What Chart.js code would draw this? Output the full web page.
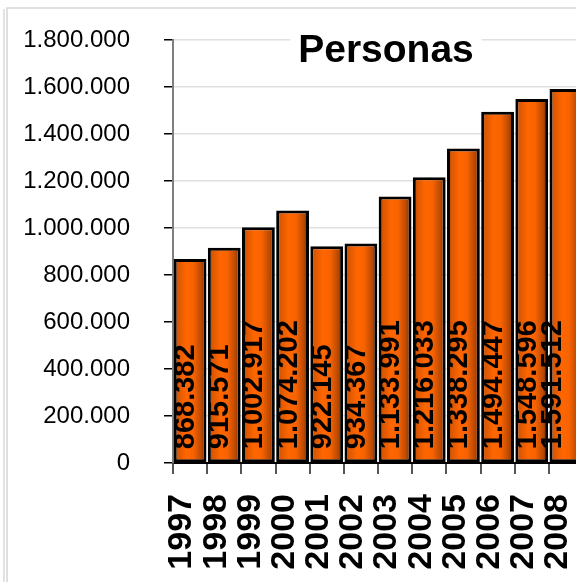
<!DOCTYPE html>
<html>
<head>
<meta charset="utf-8">
<script src="https://cdn.jsdelivr.net/npm/chart.js@4"></script>
<style>
  html, body { margin: 0; padding: 0; background: #fff; overflow: hidden; width: 576px; height: 582px; }
  #strip { position: absolute; left: 3px; top: 9px; width: 2px; height: 600px; background: #e3e3e3; }
  #frame { position: absolute; left: 6px; top: 7px; width: 700px; height: 700px; border: 2px solid #e0e0e0; }
  #wrap  { position: absolute; left: 0; top: 0; width: 592px; height: 582px; }
</style>
</head>
<body>
<div id="strip"></div>
<div id="frame"></div>
<div id="wrap"><canvas id="chart" width="592" height="582"></canvas></div>
<script>
// Data
const years    = ['1997', '1998', '1999', '2000', '2001', '2002', '2003', '2004', '2005', '2006', '2007', '2008'];
const personas = [868382, 915571, 1002917, 1074202, 922145, 934367, 1133991, 1216033, 1338295, 1494447, 1548596, 1591512];
const Y_MAX  = 1800000;
const Y_STEP = 200000;
const TITLE  = 'Personas';

const FONT = '"Liberation Sans", Arial, sans-serif';
const VIEW_W = 576;

// 1.234.567 style
function fmt(v) {
  return String(v).replace(/\B(?=(\d{3})+(?!\d))/g, '.');
}

// Cylinder-ish horizontal gradient per bar
function barGradient(c) {
  const chart = c.chart;
  const xs = chart.scales.x;
  if (!xs || !chart.chartArea || c.dataIndex === undefined) return '#ff6600';
  const x = xs.getPixelForValue(c.dataIndex);
  const w = xs.width / years.length * 0.96;
  if (!Number.isFinite(x) || !Number.isFinite(w) || w <= 0) return '#ff6600';
  const g = chart.ctx.createLinearGradient(x - w / 2, 0, x + w / 2, 0);
  g.addColorStop(0,    '#6e2800');
  g.addColorStop(0.12, '#d85600');
  g.addColorStop(0.38, '#ff6600');
  g.addColorStop(0.6,  '#f86300');
  g.addColorStop(0.85, '#b84800');
  g.addColorStop(1,    '#5a2100');
  return g;
}

// Title box drawn over the top gridline
const titlePlugin = {
  id: 'titleBox',
  afterDraw(chart) {
    const ctx = chart.ctx;
    ctx.save();
    ctx.font = 'bold 39px ' + FONT;
    const w = ctx.measureText(TITLE).width;
    const cx = 386;
    ctx.fillStyle = '#fff';
    ctx.fillRect(cx - w / 2 - 8, 26, w + 16, 44);
    ctx.fillStyle = '#000';
    ctx.textAlign = 'center';
    ctx.textBaseline = 'alphabetic';
    ctx.fillText(TITLE, cx, 62);
    ctx.restore();
  }
};

// Vertical value labels at the base of each bar
const valueLabels = {
  id: 'valueLabels',
  afterDatasetsDraw(chart) {
    const ctx = chart.ctx;
    const meta = chart.getDatasetMeta(0);
    ctx.save();
    ctx.font = 'bold 29px ' + FONT;
    ctx.fillStyle = '#000';
    ctx.textAlign = 'left';
    ctx.textBaseline = 'middle';
    meta.data.forEach((bar, i) => {
      const x = Math.min(bar.x - 4, VIEW_W - 23);
      ctx.save();
      ctx.translate(x, bar.base - 13);
      ctx.rotate(-Math.PI / 2);
      ctx.fillText(fmt(personas[i]), 0, 0);
      ctx.restore();
    });
    ctx.restore();
  }
};

new Chart(document.getElementById('chart'), {
  type: 'bar',
  data: {
    labels: years,
    datasets: [{
      data: personas,
      backgroundColor: barGradient,
      borderColor: '#000',
      borderWidth: 3,
      borderSkipped: false,
      barPercentage: 0.96,
      categoryPercentage: 1,
    }],
  },
  options: {
    responsive: false,
    animation: false,
    events: [],
    layout: { padding: { top: 40, left: 0, right: 9, bottom: 0 } },
    plugins: {
      legend: { display: false },
      title: { display: false },
      tooltip: { enabled: false },
    },
    scales: {
      x: {
        afterFit: s => {
          s.height = 119;
          s.paddingLeft = 0;
          s.paddingRight = 0;
        },
        border: { color: '#000', width: 2 },
        grid: {
          drawOnChartArea: false,
          drawTicks: true,
          tickLength: 11,
          tickColor: '#555',
          lineWidth: 2,
        },
        ticks: {
          color: '#000',
          font: { family: FONT, size: 34, weight: 'bold' },
          minRotation: 90,
          maxRotation: 90,
          padding: 20,
          labelOffset: -8,
          autoSkip: false,
        },
      },
      y: {
        min: 0,
        max: Y_MAX,
        afterFit: s => {
          s.width = 173;
          s.paddingTop = 0;
          s.paddingBottom = 0;
        },
        border: { color: '#7f7f7f', width: 2 },
        grid: {
          color: '#e0e0e0',
          lineWidth: 1.5,
          tickColor: '#000',
          tickLength: 9,
        },
        ticks: {
          stepSize: Y_STEP,
          color: '#000',
          padding: 34,
          font: { family: FONT, size: 24 },
          callback: v => fmt(v),
        },
      },
    },
  },
  plugins: [titlePlugin, valueLabels],
});
</script>
</body>
</html>
